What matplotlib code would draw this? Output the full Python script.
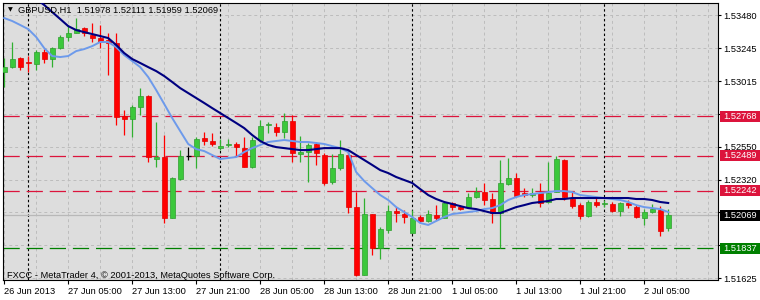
import matplotlib
matplotlib.use('Agg')
import matplotlib.pyplot as plt
import matplotlib.transforms as mtransforms
from matplotlib.patches import Rectangle
import numpy as np

plt.rcParams['font.family'] = ['Liberation Sans', 'DejaVu Sans']
plt.rcParams['font.size'] = 6.7

# ---------------- data (GBPUSD H1, 26 Jun 21:00 .. 2 Jul 08:00) ----------------
opens = [1.53078, 1.53113, 1.53177, 1.53149, 1.53135, 1.53219, 1.53170, 1.53247, 1.53325, 1.53353,
         1.53388, 1.53339, 1.53318, 1.53304, 1.53283, 1.52768, 1.52747, 1.52831, 1.52909, 1.52465,
         1.52479, 1.52049, 1.52324, 1.52486, 1.52486, 1.52613, 1.52592, 1.52542, 1.52564, 1.52571,
         1.52542, 1.52408, 1.52599, 1.52705, 1.52690, 1.52655, 1.52733, 1.52500, 1.52514, 1.52571,
         1.52493, 1.52303, 1.52401, 1.52493, 1.52126, 1.51647, 1.52077, 1.51837, 1.51963, 1.52098,
         1.52077, 1.51942, 1.52056, 1.52028, 1.52070, 1.52049, 1.52155, 1.52126, 1.52126, 1.52197,
         1.52232, 1.52183, 1.52084, 1.52289, 1.52331, 1.52225, 1.52211, 1.52225, 1.52162, 1.52232,
         1.52458, 1.52183, 1.52140, 1.52063, 1.52162, 1.52148, 1.52148, 1.52098, 1.52155, 1.52126,
         1.52049, 1.52091, 1.52105, 1.51978]
highs = [1.53177, 1.53290, 1.53184, 1.53191, 1.53233, 1.53240, 1.53254, 1.53339, 1.53410, 1.53459,
         1.53395, 1.53424, 1.53410, 1.53353, 1.53353, 1.52810, 1.52846, 1.52965, 1.52916, 1.52726,
         1.52634, 1.52338, 1.52528, 1.52549, 1.52620, 1.52655, 1.52648, 1.52606, 1.52606, 1.52585,
         1.52620, 1.52620, 1.52740, 1.52726, 1.52719, 1.52789, 1.52775, 1.52627, 1.52578, 1.52585,
         1.52507, 1.52500, 1.52599, 1.52528, 1.52232, 1.52190, 1.52077, 1.51985, 1.52140, 1.52126,
         1.52105, 1.52105, 1.52070, 1.52105, 1.52140, 1.52162, 1.52162, 1.52140, 1.52225, 1.52267,
         1.52296, 1.52225, 1.52458, 1.52472, 1.52367, 1.52260, 1.52260, 1.52296, 1.52444, 1.52486,
         1.52465, 1.52232, 1.52155, 1.52176, 1.52190, 1.52176, 1.52162, 1.52162, 1.52176, 1.52140,
         1.52112, 1.52148, 1.52133, 1.52111]
lows = [1.52972, 1.53106, 1.53092, 1.53078, 1.53092, 1.53142, 1.53113, 1.53240, 1.53297, 1.53353,
        1.53332, 1.53290, 1.53247, 1.53057, 1.52705, 1.52634, 1.52620, 1.52775, 1.52444, 1.52408,
        1.52014, 1.52049, 1.52317, 1.52458, 1.52401, 1.52564, 1.52556, 1.52528, 1.52549, 1.52486,
        1.52408, 1.52401, 1.52585, 1.52648, 1.52627, 1.52613, 1.52444, 1.52444, 1.52303, 1.52423,
        1.52282, 1.52289, 1.52387, 1.52084, 1.51640, 1.51647, 1.51788, 1.51760, 1.51942, 1.52021,
        1.52014, 1.51942, 1.52014, 1.52021, 1.52035, 1.52049, 1.52105, 1.52105, 1.52119, 1.52190,
        1.52140, 1.52014, 1.51837, 1.52282, 1.52197, 1.52197, 1.52197, 1.52126, 1.52155, 1.52232,
        1.52176, 1.52119, 1.52042, 1.52056, 1.52126, 1.52126, 1.52091, 1.52063, 1.52119, 1.52049,
        1.52000, 1.52084, 1.51921, 1.51959]
closes = [1.53113, 1.53170, 1.53113, 1.53142, 1.53219, 1.53170, 1.53247, 1.53325, 1.53353, 1.53381,
          1.53353, 1.53318, 1.53290, 1.53283, 1.52761, 1.52747, 1.52831, 1.52909, 1.52479, 1.52479,
          1.52049, 1.52331, 1.52486, 1.52486, 1.52606, 1.52592, 1.52571, 1.52556, 1.52571, 1.52549,
          1.52408, 1.52599, 1.52697, 1.52712, 1.52655, 1.52733, 1.52507, 1.52514, 1.52564, 1.52507,
          1.52296, 1.52401, 1.52500, 1.52126, 1.51647, 1.52077, 1.51837, 1.51971, 1.52098, 1.52084,
          1.52056, 1.52049, 1.52028, 1.52077, 1.52049, 1.52155, 1.52126, 1.52112, 1.52197, 1.52232,
          1.52176, 1.52084, 1.52296, 1.52331, 1.52204, 1.52211, 1.52225, 1.52155, 1.52225, 1.52465,
          1.52197, 1.52133, 1.52063, 1.52162, 1.52140, 1.52155, 1.52098, 1.52155, 1.52140, 1.52056,
          1.52091, 1.52112, 1.51956, 1.52069]

ma_fast = [1.53459, 1.53438, 1.53410, 1.53381, 1.53325, 1.53247, 1.53191, 1.53184, 1.53191, 1.53226,
           1.53240, 1.53261, 1.53290, 1.53290, 1.53254, 1.53198, 1.53156, 1.53113, 1.53043, 1.52951,
           1.52853, 1.52754, 1.52662, 1.52571, 1.52535, 1.52521, 1.52493, 1.52465, 1.52472, 1.52479,
           1.52514, 1.52542, 1.52564, 1.52585, 1.52592, 1.52599, 1.52592, 1.52585, 1.52585, 1.52578,
           1.52571, 1.52556, 1.52542, 1.52514, 1.52373, 1.52310, 1.52260, 1.52211, 1.52176, 1.52126,
           1.52091, 1.52056, 1.52014, 1.52000, 1.52028, 1.52056, 1.52077, 1.52084, 1.52091, 1.52098,
           1.52112, 1.52119, 1.52140, 1.52176, 1.52197, 1.52211, 1.52218, 1.52225, 1.52232, 1.52239,
           1.52239, 1.52232, 1.52211, 1.52204, 1.52197, 1.52190, 1.52183, 1.52176, 1.52162, 1.52140,
           1.52126, 1.52119, 1.52112, 1.52091]
ma_slow = [None, None, None, 1.53642, 1.53593, 1.53551, 1.53501, 1.53452, 1.53402, 1.53374,
           1.53360, 1.53346, 1.53332, 1.53318, 1.53269, 1.53212, 1.53170, 1.53142, 1.53113, 1.53085,
           1.53050, 1.53008, 1.52965, 1.52930, 1.52895, 1.52860, 1.52824, 1.52789, 1.52754, 1.52719,
           1.52683, 1.52634, 1.52592, 1.52564, 1.52549, 1.52542, 1.52535, 1.52528, 1.52528, 1.52535,
           1.52542, 1.52542, 1.52542, 1.52528, 1.52493, 1.52458, 1.52423, 1.52387, 1.52366, 1.52338,
           1.52317, 1.52296, 1.52253, 1.52211, 1.52183, 1.52162, 1.52148, 1.52133, 1.52119, 1.52112,
           1.52098, 1.52084, 1.52084, 1.52105, 1.52126, 1.52140, 1.52155, 1.52162, 1.52169, 1.52183,
           1.52183, 1.52190, 1.52190, 1.52190, 1.52190, 1.52190, 1.52190, 1.52190, 1.52190, 1.52183,
           1.52183, 1.52176, 1.52162, 1.52155]

symbol_info = "GBPUSD,H1  1.51978 1.52111 1.51959 1.52069"
copyright_text = "FXCC - MetaTrader 4, \u00a9 2001-2013, MetaQuotes Software Corp."
x_tick_labels = ['26 Jun 2013', '27 Jun 05:00', '27 Jun 13:00', '27 Jun 21:00', '28 Jun 05:00',
                 '28 Jun 13:00', '28 Jun 21:00', '1 Jul 05:00', '1 Jul 13:00', '1 Jul 21:00',
                 '2 Jul 05:00']
x_tick_bars = [0, 8, 16, 24, 32, 40, 48, 56, 64, 72, 80]
day_start_bars = [3, 27, 51, 75]
y_tick_values = [1.53480, 1.53245, 1.53015, 1.52785, 1.52550, 1.52320, 1.52090, 1.51860, 1.51625]
y_tick_labels = ['1.53480', '1.53245', '1.53015', '', '1.52550', '1.52320', '', '', '1.51625']
resistance_levels = [1.52768, 1.52489, 1.52242]
support_levels = [1.51837]
bid_price = 1.52069

# ---------------- drawing ----------------
W, H = 760, 300
fig = plt.figure(figsize=(W / 100, H / 100), dpi=100)
fig.patch.set_facecolor('white')
ax = fig.add_axes([3 / W, 20 / H, 715 / W, 277 / H])
ax.set_facecolor('#DDDDDD')
ax.set_xlim(-0.15, 89.225)
ax.set_ylim(1.51612, 1.53565)

n = len(opens)
xs = np.arange(n)

# grid
for yv in y_tick_values:
    ax.axhline(yv, color='#BCBCBC', lw=0.7, ls=(0, (3, 3)), zorder=0)
for i in range(0, 90, 4):
    ax.axvline(i, color='#BCBCBC', lw=0.7, ls=(0, (3, 3)), zorder=0)

# day separators
for d in day_start_bars:
    ax.axvline(d, color='black', lw=0.8, ls=(0, (2.2, 2.2)), zorder=1)

# levels
for lv in resistance_levels:
    ax.axhline(lv, color='#DC143C', lw=0.9, ls=(0, (13, 5.5)), zorder=1)
for lv in support_levels:
    ax.axhline(lv, color='#008000', lw=0.9, ls=(0, (13, 5.5)), zorder=1)
ax.axhline(bid_price, color='#B8B8B8', lw=0.9, zorder=1)

# candles
up_face, up_edge = '#3CC83C', '#2E9E2E'
dn_face, dn_edge = '#FF0000', '#E00000'
min_h = 0.00007
for i, (o, h, l, c) in enumerate(zip(opens, highs, lows, closes)):
    if c > o:
        face, edge, wick = up_face, up_edge, '#30B030'
    elif c < o:
        face, edge, wick = dn_face, dn_edge, '#FF0000'
    else:
        face, edge, wick = 'black', 'black', 'black'
    ax.vlines(i, l, h, color=wick, lw=0.9, zorder=3)
    if c == o:
        ax.hlines(o, i - 0.32, i + 0.32, color='black', lw=0.9, zorder=4)
    else:
        ax.bar(i, max(abs(c - o), min_h), bottom=min(o, c), width=0.62,
               color=face, edgecolor=edge, linewidth=0.5, zorder=4)

# moving averages
ax.plot(xs, np.array(ma_fast, dtype=float), color='#6D9AEB', lw=1.4, zorder=5,
        solid_joinstyle='round')
ax.plot(xs, np.array(ma_slow, dtype=float), color='#000080', lw=1.5, zorder=6,
        solid_joinstyle='round')

# spines
for s in ax.spines.values():
    s.set_color('black')
    s.set_linewidth(0.8)

# axes ticks
ax.yaxis.tick_right()
ax.set_yticks(y_tick_values)
ax.set_yticklabels(y_tick_labels)
ax.tick_params(axis='y', length=2.2, width=0.8, pad=1.6, labelsize=6.7, colors='black')
ax.set_xticks(x_tick_bars)
ax.set_xticklabels(x_tick_labels, ha='left')
ax.tick_params(axis='x', length=3, width=0.8, pad=2.0, labelsize=6.7, colors='black')

# price labels on the right axis
trans = mtransforms.blended_transform_factory(ax.transAxes, ax.transData)
ypx = (1.53565 - 1.51612) / 277.0
box_h = 11 * ypx
labels = [(lv, '#DC143C') for lv in resistance_levels] + [(bid_price, 'black')] + \
         [(lv, '#008000') for lv in support_levels]
for lv, col in labels:
    ax.add_patch(Rectangle((1 + 1.5 / 715, lv - box_h / 2), 45 / 715, box_h,
                           transform=trans, clip_on=False, facecolor=col,
                           edgecolor='none', zorder=10))
    ax.text(1 + 5 / 715, lv, f'{lv:.5f}', transform=trans, color='white',
            va='center', ha='left', fontsize=6.7, clip_on=False, zorder=11)

# header and footer texts
fig.text(10 / W, 1 - 10 / H, '\u25bc', family='DejaVu Sans', fontsize=4.5,
         va='center', ha='center', color='black')
fig.text(18 / W, 1 - 10.5 / H, symbol_info, va='center', ha='left', fontsize=6.7,
         color='black')
fig.text(7 / W, 1 - 275 / H, copyright_text, va='center', ha='left', fontsize=6.7,
         color='black')

fig.savefig('out.png', dpi=100, facecolor='white')
